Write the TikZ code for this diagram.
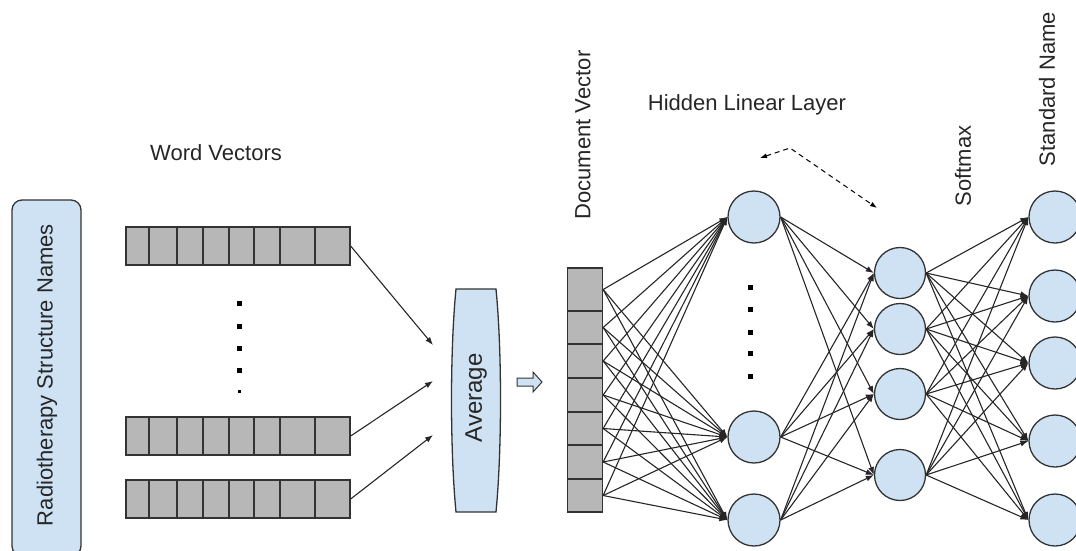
\documentclass[tikz,border=0pt]{standalone}
\usepackage{fontspec}
\setmainfont{Liberation Sans}
\usetikzlibrary{arrows.meta}
\definecolor{fillblue}{HTML}{CFE2F3}
\definecolor{fillgray}{HTML}{B7B7B7}
\definecolor{linegray}{HTML}{333333}
\tikzset{
  neuron/.style={circle, draw=linegray, fill=fillblue, line width=1.3pt, minimum size=52pt, inner sep=0pt},
  cell/.style={draw=linegray, fill=fillgray, line width=1.3pt, inner sep=0pt},
  arr/.style={-{Latex[length=8pt,width=6pt]}, line width=1.1pt, draw=black!85},
  lbl/.style={font=\fontsize{22}{26}\selectfont, text=black!85, inner sep=0pt},
}
\begin{document}
\begin{tikzpicture}[x=1pt, y=-1pt]
                % Frame
                \clip (0,0) rectangle (1076,550);

                % Input names
                \node[draw=linegray, fill=fillblue, line width=1.3pt, rounded corners=10pt,
                      minimum width=69pt, minimum height=356pt] (names) at (46.5,378) {};
                \node[lbl, rotate=90] (namestext) at (47,375) {Radiotherapy Structure Names};

                % Word vectors
                \node[lbl] (wordlbl) at (216,153) {Word Vectors};
                \foreach \r/\yc in {1/246, 2/436, 3/499} {
                    \node[cell, minimum width=224pt, minimum height=38pt] (w\r) at (238,\yc) {};
                    \foreach \xd in {149,177,203,229,254,280,315}
                        \draw[linegray, line width=1.3pt] (\xd,\yc-19) -- (\xd,\yc+19);
                }
                \foreach \yd in {303,326,348,370}
                    \fill (236.5,\yd-2.5) rectangle (241.5,\yd+2.5);
                \fill (237.5,389.5) rectangle (240.5,392.5);

                % Average
                \coordinate (a1) at (433,345);
                \coordinate (a2) at (433,381);
                \coordinate (a3) at (433,435);
                \draw[arr] (w1.east) -- (a1);
                \draw[arr] (w2.east) -- (a2);
                \draw[arr] (w3.east) -- (a3);
                \draw[linegray, fill=fillblue, line width=1.3pt] (456,289) -- (496,289)
                    .. controls (502,350) and (502,450) .. (496,512) -- (456,512)
                    .. controls (450,450) and (450,350) .. (456,289) -- cycle;
                \node[lbl, rotate=90, font=\fontsize{24}{28}\selectfont] (avg) at (476,398) {Average};

                % Hollow arrow
                \draw[linegray, fill=fillblue, line width=1pt] (517,378) -- (533,378) -- (533,372)
                    -- (542,382) -- (533,392) -- (533,386) -- (517,386) -- cycle;

                % Document vector
                \node[lbl, rotate=90] (doclbl) at (583,135) {Document Vector};
                \foreach \i/\yc/\h in {1/289.5/43, 2/327.5/33, 3/361/34, 4/395/34, 5/428.5/33, 6/462/34, 7/495.5/33}
                    \node[cell, minimum width=35pt, minimum height=\h pt] (d\i) at (585,\yc) {};

                % Hidden layers
                \node[lbl] (hidlbl) at (747,105) {Hidden Linear Layer};
                \foreach \j/\yc in {1/217, 2/437, 3/520}
                    \node[neuron] (h\j) at (754,\yc) {};
                \foreach \yd in {287,309,332,353,376}
                    \fill (747.5,\yd-2.5) rectangle (752.5,\yd+2.5);
                \foreach \k/\yc in {1/273, 2/329, 3/394, 4/475}
                    \node[neuron, minimum size=51pt] (g\k) at (900,\yc) {};

                % Softmax and output
                \node[lbl, rotate=90] (softlbl) at (963,166) {Softmax};
                \node[lbl, rotate=90] (stdlbl) at (1047,89) {Standard Name};
                \foreach \m/\yc in {1/217, 2/296, 3/363, 4/441, 5/520}
                    \node[neuron] (o\m) at (1055,\yc) {};

                % Connections
                \foreach \i in {1,...,7}
                    \foreach \j in {1,2,3}
                        \draw[arr] (d\i.east) -- (h\j.west);
                \foreach \j in {1,2,3}
                    \foreach \k in {1,...,4}
                        \draw[arr] (h\j.east) -- (g\k.west);
                \foreach \k in {1,...,4}
                    \foreach \m in {1,...,5}
                        \draw[arr] (g\k.east) -- (o\m.west);

                % Dashed pointer
                \coordinate (hl) at (760,158);
                \coordinate (hapex) at (790,148);
                \coordinate (hr) at (877,208);
                \draw[dash pattern=on 5pt off 4pt, line width=1pt, {Latex[length=7pt,width=5pt]}-{Latex[length=7pt,width=5pt]}]
                    (hl) -- (hapex) -- (hr);
\end{tikzpicture}
\end{document}
